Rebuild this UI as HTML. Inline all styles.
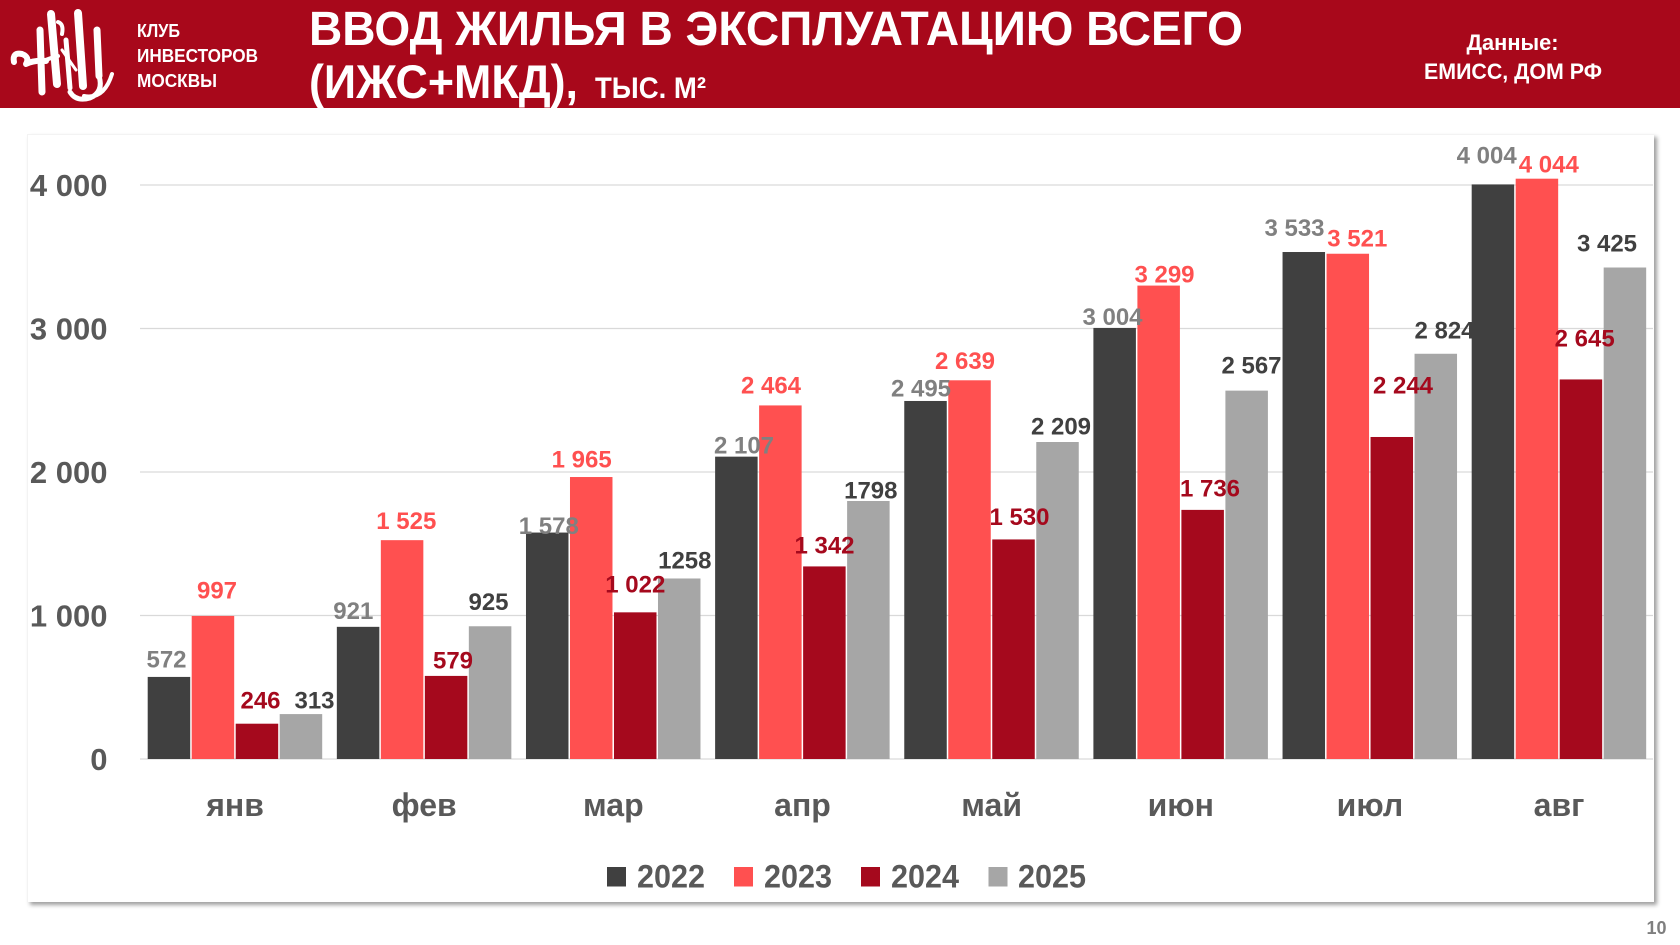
<!DOCTYPE html>
<html>
<head>
<meta charset="utf-8">
<style>
  html,body{margin:0;padding:0;background:#ffffff;}
  body{width:1680px;height:945px;position:relative;overflow:hidden;}
  .panel{position:absolute;left:27px;top:134px;width:1627px;height:768px;background:#fff;
    box-shadow:3px 3px 4px rgba(0,0,0,0.38);border-left:1px solid #f3f3f3;border-top:1px solid #f3f3f3;box-sizing:border-box;}
  svg{position:absolute;left:0;top:0;}
  text{font-family:"Liberation Sans","Noto Sans CJK SC",sans-serif;}
</style>
</head>
<body>
<div class="panel"></div>
<svg width="1680" height="945" viewBox="0 0 1680 945" xmlns="http://www.w3.org/2000/svg">
  <!-- Header -->
  <rect x="0" y="0" width="1680" height="108" fill="#a8081b"/>
  <!-- Logo (approximation) -->
  <g fill="none" stroke="#ffffff" stroke-linecap="round" stroke-linejoin="round">
    <path d="M14 62 Q12 52 22 54 Q30 57 26 64 Q34 60 46 61" stroke-width="6"/>
    <path d="M40 30 L42 92" stroke-width="7"/>
    <path d="M41 62 Q50 58 58 56" stroke-width="4"/>
    <path d="M51 14 L57 84" stroke-width="8"/>
    <path d="M58 22 Q64 24 62 34" stroke-width="4"/>
    <path d="M66 40 L70 88" stroke-width="5"/>
    <path d="M62 50 L76 70" stroke-width="3"/>
    <path d="M78 13 L83 86" stroke-width="8"/>
    <path d="M97 30 L99 76" stroke-width="7"/>
    <path d="M99 76 Q104 92 90 98 Q76 102 70 92" stroke-width="5"/>
    <path d="M84 96 Q104 100 112 74" stroke-width="4"/>
  </g>
  <g fill="#ffffff" font-size="18" font-weight="bold">
    <text x="137" y="37" textLength="43" lengthAdjust="spacingAndGlyphs">КЛУБ</text>
    <text x="137" y="62" textLength="121" lengthAdjust="spacingAndGlyphs">ИНВЕСТОРОВ</text>
    <text x="137" y="87" textLength="80" lengthAdjust="spacingAndGlyphs">МОСКВЫ</text>
  </g>
  <g fill="#ffffff" font-weight="bold">
    <text x="309" y="45" font-size="48" textLength="934" lengthAdjust="spacingAndGlyphs">ВВОД ЖИЛЬЯ В ЭКСПЛУАТАЦИЮ ВСЕГО</text>
    <text x="309" y="98" font-size="47" textLength="269" lengthAdjust="spacingAndGlyphs">(ИЖС+МКД),</text>
    <text x="595" y="98" font-size="30" textLength="111" lengthAdjust="spacingAndGlyphs">ТЫС. М²</text>
    <text x="1512.5" y="50" font-size="22" text-anchor="middle" textLength="92" lengthAdjust="spacingAndGlyphs">Данные:</text>
    <text x="1513" y="79" font-size="22" text-anchor="middle" textLength="178" lengthAdjust="spacingAndGlyphs">ЕМИСС, ДОМ РФ</text>
  </g>

  <!-- Gridlines -->
  <g stroke="#d9d9d9" stroke-width="1.3">
    <line x1="140" y1="185" x2="1653" y2="185"/>
    <line x1="140" y1="328.5" x2="1653" y2="328.5"/>
    <line x1="140" y1="472" x2="1653" y2="472"/>
    <line x1="140" y1="615.5" x2="1653" y2="615.5"/>
    <line x1="140" y1="759" x2="1653" y2="759"/>
  </g>

  <!-- Y axis labels -->
  <g fill="#595959" font-size="31" font-weight="bold" text-anchor="end">
    <text x="107.5" y="196">4 000</text>
    <text x="107.5" y="339.5">3 000</text>
    <text x="107.5" y="483">2 000</text>
    <text x="107.5" y="626.5">1 000</text>
    <text x="107.5" y="770">0</text>
  </g>

  <!-- Bars -->
  <rect x="147.7" y="676.92" width="42.5" height="82.08" fill="#404040"/>
  <rect x="191.7" y="615.93" width="42.5" height="143.07" fill="#ff5050"/>
  <rect x="235.7" y="723.70" width="42.5" height="35.30" fill="#a5091d"/>
  <rect x="279.7" y="714.08" width="42.5" height="44.92" fill="#a6a6a6"/>

  <rect x="336.84" y="626.84" width="42.5" height="132.16" fill="#404040"/>
  <rect x="380.84" y="540.16" width="42.5" height="218.84" fill="#ff5050"/>
  <rect x="424.84" y="675.91" width="42.5" height="83.09" fill="#a5091d"/>
  <rect x="468.84" y="626.26" width="42.5" height="132.74" fill="#a6a6a6"/>

  <rect x="525.98" y="532.56" width="42.5" height="226.44" fill="#404040"/>
  <rect x="569.98" y="477.02" width="42.5" height="281.98" fill="#ff5050"/>
  <rect x="613.98" y="612.34" width="42.5" height="146.66" fill="#a5091d"/>
  <rect x="657.98" y="578.48" width="42.5" height="180.52" fill="#a6a6a6"/>

  <rect x="715.12" y="456.65" width="42.5" height="302.35" fill="#404040"/>
  <rect x="759.12" y="405.42" width="42.5" height="353.58" fill="#ff5050"/>
  <rect x="803.12" y="566.42" width="42.5" height="192.58" fill="#a5091d"/>
  <rect x="847.12" y="500.99" width="42.5" height="258.01" fill="#a6a6a6"/>

  <rect x="904.26" y="400.97" width="42.5" height="358.03" fill="#404040"/>
  <rect x="948.26" y="380.30" width="42.5" height="378.70" fill="#ff5050"/>
  <rect x="992.26" y="539.44" width="42.5" height="219.56" fill="#a5091d"/>
  <rect x="1036.26" y="442.01" width="42.5" height="316.99" fill="#a6a6a6"/>

  <rect x="1093.4" y="327.93" width="42.5" height="431.07" fill="#404040"/>
  <rect x="1137.4" y="285.59" width="42.5" height="473.41" fill="#ff5050"/>
  <rect x="1181.4" y="509.88" width="42.5" height="249.12" fill="#a5091d"/>
  <rect x="1225.4" y="390.64" width="42.5" height="368.36" fill="#a6a6a6"/>

  <rect x="1282.54" y="252.01" width="42.5" height="506.99" fill="#404040"/>
  <rect x="1326.54" y="253.74" width="42.5" height="505.26" fill="#ff5050"/>
  <rect x="1370.54" y="436.99" width="42.5" height="322.01" fill="#a5091d"/>
  <rect x="1414.54" y="353.76" width="42.5" height="405.24" fill="#a6a6a6"/>

  <rect x="1471.68" y="184.43" width="42.5" height="574.57" fill="#404040"/>
  <rect x="1515.68" y="178.69" width="42.5" height="580.31" fill="#ff5050"/>
  <rect x="1559.68" y="379.44" width="42.5" height="379.56" fill="#a5091d"/>
  <rect x="1603.68" y="267.51" width="42.5" height="491.49" fill="#a6a6a6"/>

  <!-- Data labels -->
  <g font-size="24" font-weight="bold" text-anchor="middle">
    <g fill="#808080">
      <text x="166.5" y="667.3">572</text>
      <text x="353.3" y="619">921</text>
      <text x="548.8" y="534">1 578</text>
      <text x="744" y="453.3">2 107</text>
      <text x="921" y="396.7">2 495</text>
      <text x="1112.5" y="325">3 004</text>
      <text x="1294.5" y="236">3 533</text>
      <text x="1486.7" y="163.3">4 004</text>
    </g>
    <g fill="#ff5050">
      <text x="217" y="598.3">997</text>
      <text x="406.3" y="529">1 525</text>
      <text x="581.7" y="467.3">1 965</text>
      <text x="771" y="393.3">2 464</text>
      <text x="965" y="369">2 639</text>
      <text x="1164.5" y="282.7">3 299</text>
      <text x="1357.3" y="246.7">3 521</text>
      <text x="1548.8" y="172.7">4 044</text>
    </g>
    <g fill="#a5091d">
      <text x="260.5" y="708.3">246</text>
      <text x="453" y="668.3">579</text>
      <text x="635.3" y="592.3">1 022</text>
      <text x="824.5" y="553.3">1 342</text>
      <text x="1019.5" y="525">1 530</text>
      <text x="1210" y="496.7">1 736</text>
      <text x="1403" y="393.3">2 244</text>
      <text x="1584.7" y="346.7">2 645</text>
    </g>
    <g fill="#404040">
      <text x="314.5" y="708.3">313</text>
      <text x="488.5" y="610">925</text>
      <text x="684.8" y="568.3">1258</text>
      <text x="870.8" y="498.3">1798</text>
      <text x="1061" y="434.3">2 209</text>
      <text x="1251.5" y="373.3">2 567</text>
      <text x="1444.5" y="338.3">2 824</text>
      <text x="1607" y="251.7">3 425</text>
    </g>
  </g>

  <!-- Category labels -->
  <g fill="#595959" font-size="32" font-weight="bold" text-anchor="middle">
    <text x="235.07" y="816">янв</text>
    <text x="424.21" y="816">фев</text>
    <text x="613.35" y="816">мар</text>
    <text x="802.49" y="816">апр</text>
    <text x="991.63" y="816">май</text>
    <text x="1180.77" y="816">июн</text>
    <text x="1369.91" y="816">июл</text>
    <text x="1559.05" y="816">авг</text>
  </g>

  <!-- Legend -->
  <rect x="607" y="867" width="19" height="19.5" fill="#404040"/>
  <rect x="734" y="867" width="19" height="19.5" fill="#ff5050"/>
  <rect x="861" y="867" width="19" height="19.5" fill="#a5091d"/>
  <rect x="988.5" y="867" width="19" height="19.5" fill="#a6a6a6"/>
  <g fill="#595959" font-size="32" font-weight="bold">
    <text x="637" y="887.5" textLength="68" lengthAdjust="spacingAndGlyphs">2022</text>
    <text x="764" y="887.5" textLength="68" lengthAdjust="spacingAndGlyphs">2023</text>
    <text x="891" y="887.5" textLength="68" lengthAdjust="spacingAndGlyphs">2024</text>
    <text x="1018" y="887.5" textLength="68" lengthAdjust="spacingAndGlyphs">2025</text>
  </g>

  <!-- Page number -->
  <text x="1656.5" y="934" font-size="18" font-weight="bold" fill="#7f7f7f" text-anchor="middle">10</text>
</svg>
</body>
</html>
